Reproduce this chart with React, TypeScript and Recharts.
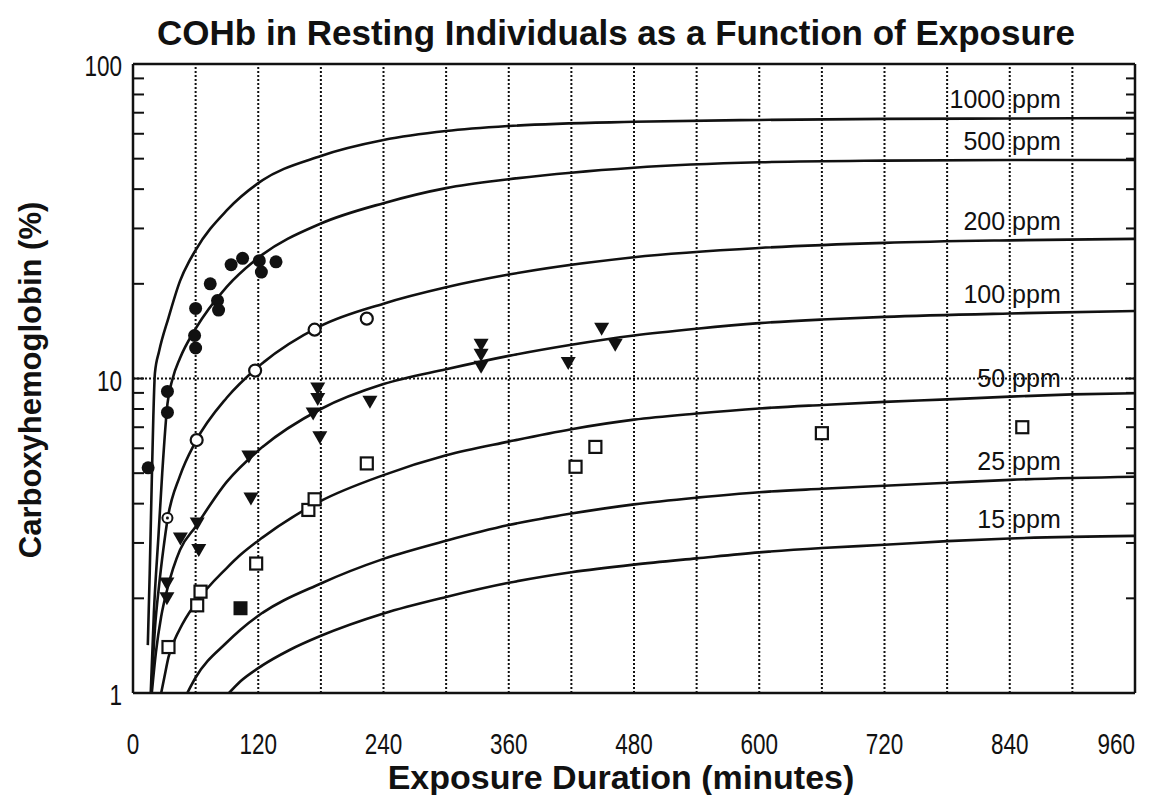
import React from 'react';
import { ComposedChart, Line, Scatter, XAxis, YAxis, ReferenceLine } from 'recharts';

// ---------- axis ticks ----------
const xTickLabels = [0, 120, 240, 360, 480, 600, 720, 840, 960];
const xMajorTicks = [0, 60, 120, 180, 240, 300, 360, 420, 480, 540, 600, 660, 720, 780, 840, 900, 960];
const xMinorTicks = [0, 30, 60, 90, 120, 150, 180, 210, 240, 270, 300, 330, 360, 390, 420, 450, 480, 510, 540, 570, 600, 630, 660, 690, 720, 750, 780, 810, 840, 870, 900, 930, 960];
const gridX = [60, 120, 180, 240, 300, 360, 420, 480, 540, 600, 660, 720, 780, 840, 900];
const gridY = [10];
const yTickLabels = [1, 10, 100];
const yMinorTicks = [1, 2, 3, 4, 5, 6, 7, 8, 9, 10, 20, 30, 40, 50, 60, 70, 80, 90, 100];

// ---------- model curves (minutes, COHb %) ----------
const curve1000 = [[14.2, 1.42], [16, 2.4], [17.5, 4.0], [19.5, 7.6], [21, 10.4], [25, 12.2], [34, 15.6], [45, 20.4], [60, 25.6], [90, 34.3], [120, 41.8], [180, 51.0], [240, 57.3], [300, 61.2], [360, 63.5], [480, 65.5], [600, 66.4], [720, 66.9], [840, 67.1], [960, 67.3]];
const curve500 = [[17, 1.0], [20, 1.8], [24.5, 3.2], [28, 5.0], [33, 8.3], [38, 10.0], [45, 11.6], [60, 14.4], [90, 19.6], [120, 24.2], [180, 31.1], [240, 36.1], [300, 40.3], [360, 43.0], [480, 46.8], [600, 48.7], [720, 49.3], [840, 49.5], [960, 49.5]];
const curve200 = [[17.5, 1.0], [21, 1.6], [25, 2.2], [29, 2.85], [33, 3.55], [45, 4.9], [60, 6.3], [90, 8.7], [120, 10.9], [180, 14.7], [240, 17.3], [300, 19.5], [360, 21.4], [480, 24.3], [600, 26.0], [720, 27.0], [840, 27.5], [960, 27.8]];
const curve100 = [[18, 1.0], [22, 1.35], [27, 1.75], [33, 2.15], [45, 2.85], [60, 3.38], [90, 4.7], [120, 5.9], [180, 8.0], [240, 9.6], [300, 10.7], [360, 11.8], [420, 12.8], [480, 13.7], [540, 14.4], [600, 15.0], [660, 15.4], [720, 15.7], [840, 16.1], [960, 16.4]];
const curve50 = [[27, 1.0], [30, 1.12], [34, 1.3], [45, 1.6], [60, 1.93], [90, 2.5], [103, 2.75], [120, 3.05], [180, 4.08], [240, 4.93], [300, 5.7], [360, 6.3], [420, 6.9], [480, 7.4], [540, 7.74], [600, 8.03], [660, 8.24], [720, 8.43], [780, 8.58], [840, 8.76], [900, 8.9], [960, 8.98]];
const curve25 = [[52, 1.0], [60, 1.12], [90, 1.45], [103, 1.59], [120, 1.76], [180, 2.23], [240, 2.67], [300, 3.05], [360, 3.42], [420, 3.72], [480, 3.98], [540, 4.18], [600, 4.35], [660, 4.46], [720, 4.56], [780, 4.66], [840, 4.76], [960, 4.87]];
const curve15 = [[92, 1.0], [103, 1.09], [120, 1.2], [150, 1.37], [180, 1.52], [240, 1.79], [300, 2.02], [360, 2.24], [420, 2.42], [480, 2.56], [540, 2.68], [600, 2.8], [660, 2.89], [720, 2.96], [780, 3.04], [840, 3.1], [960, 3.16]];

const curveNames = ['1000 ppm', '500 ppm', '200 ppm', '100 ppm', '50 ppm', '25 ppm', '15 ppm'];
const labelAt = 840;

// ---------- observed data ----------
const filledCircles = [[14.5, 5.2], [33, 9.1], [33, 7.8], [60, 16.7], [59, 13.7], [60, 12.5], [74, 20.0], [81, 17.7], [82, 16.5], [94, 23.0], [105, 24.1], [121, 23.7], [123, 21.8], [137, 23.5]];
const openCircles = [[61, 6.37], [117, 10.6], [174, 14.3], [224, 15.5]];
const dotCircles = [[33, 3.6]];
const triangles = [[32.5, 2.23], [32.5, 2.0], [45.4, 3.1], [61.5, 3.46], [63, 2.85], [111, 5.65], [113, 4.15], [172.6, 7.74], [177, 9.3], [177, 8.6], [179, 6.5], [227, 8.43], [333.5, 12.8], [333.5, 11.9], [333.5, 10.9], [417, 11.2], [449, 14.4], [462, 12.8]];
const openSquares = [[34, 1.4], [61.5, 1.9], [64.7, 2.1], [118, 2.58], [168, 3.82], [174, 4.13], [224, 5.37], [424, 5.24], [443, 6.06], [660, 6.7], [852, 7.0]];
const filledSquares = [[103, 1.86]];

const toPts = (a: number[][]) => a.map(([t, v]) => ({ t, v }));
const curves = [curve1000, curve500, curve200, curve100, curve50, curve25, curve15].map(toPts);

const INK = '#111';
const FONT = "'Liberation Sans', Arial, Helvetica, sans-serif";
const xMax = xTickLabels[xTickLabels.length - 1];

const makeLabel = (text: string, data: { t: number; v: number }[]) => {
  const idx = data.findIndex((d) => d.t === labelAt);
  return (props: any) => {
    if (props.index !== idx) return null;
    const x = props.x ?? props.viewBox?.x;
    const y = props.y ?? props.viewBox?.y;
    return (
      <text x={x + 51} y={y - 10} textAnchor="end" fontFamily={FONT} fontSize={25} fill={INK}>
        {text}
      </text>
    );
  };
};

// condensed tick labels (reference uses a narrow face)
const XTick = (p: any) => (
  <text transform={`translate(${p.x},${p.y}) scale(0.75,1)`} x={0} y={20} textAnchor={p.payload.value === xMax ? 'end' : 'middle'} fontFamily={FONT} fontSize={30} fill={INK}>
    {p.payload.value}
  </text>
);
const YTick = (p: any) => (
  <text transform={`translate(${p.x},${p.y}) scale(0.75,1)`} x={0} y={12} textAnchor="end" fontFamily={FONT} fontSize={30} fill={INK}>
    {p.payload.value}
  </text>
);

const FilledCircle = (p: any) => <circle cx={p.cx} cy={p.cy} r={6.5} fill={INK} />;
const OpenCircle = (p: any) => <circle cx={p.cx} cy={p.cy} r={6} fill="#fff" stroke={INK} strokeWidth={2.2} />;
const DotCircle = (p: any) => (
  <g>
    <circle cx={p.cx} cy={p.cy} r={5} fill="#fff" stroke={INK} strokeWidth={2} />
    <circle cx={p.cx} cy={p.cy} r={1.5} fill={INK} />
  </g>
);
const Triangle = (p: any) => (
  <path d={`M${p.cx - 7.5},${p.cy - 6} L${p.cx + 7.5},${p.cy - 6} L${p.cx},${p.cy + 7} Z`} fill={INK} />
);
const OpenSquare = (p: any) => <rect x={p.cx - 6} y={p.cy - 6} width={12} height={12} fill="#fff" stroke={INK} strokeWidth={2.2} />;
const FilledSquare = (p: any) => <rect x={p.cx - 7} y={p.cy - 7} width={14} height={14} fill={INK} />;

const W = 1143;
const H = 787;

export default function App() {
  return (
    <div style={{ position: 'fixed', left: 8, top: 8, width: W, height: H, background: '#fff' }}>
      <ComposedChart width={W} height={H} margin={{ top: 56, right: 16, bottom: 22, left: 0 }}>
        {/* main axes */}
        <XAxis
          xAxisId="x"
          dataKey="t"
          type="number"
          domain={[0, 960]}
          allowDataOverflow
          ticks={xTickLabels}
          interval={0}
          height={80}
          tickLine={false}
          tickSize={0}
          tickMargin={41}
          axisLine={{ stroke: INK, strokeWidth: 2.5 }}
          tick={XTick}
        />
        <YAxis
          yAxisId="y"
          dataKey="v"
          type="number"
          scale="log"
          domain={[1, 100]}
          allowDataOverflow
          ticks={yTickLabels}
          interval={0}
          width={125}
          tickLine={false}
          tickSize={0}
          tickMargin={11}
          axisLine={{ stroke: INK, strokeWidth: 2.5 }}
          tick={YTick}
        />
        {/* inward tick marks: bottom */}
        <XAxis xAxisId="bMaj" type="number" domain={[0, 960]} allowDataOverflow orientation="bottom" mirror height={20}
          ticks={xMajorTicks} interval={0} tickSize={14} axisLine={false} tickFormatter={() => ''}
          tickLine={{ stroke: INK, strokeWidth: 2 }} />
        <XAxis xAxisId="bMin" type="number" domain={[0, 960]} allowDataOverflow orientation="bottom" mirror height={20}
          ticks={xMinorTicks} interval={0} tickSize={8} axisLine={false} tickFormatter={() => ''}
          tickLine={{ stroke: INK, strokeWidth: 2 }} />
        {/* top */}
        <XAxis xAxisId="tMaj" type="number" domain={[0, 960]} allowDataOverflow orientation="top" mirror height={20}
          ticks={xMajorTicks} interval={0} tickSize={13} axisLine={{ stroke: INK, strokeWidth: 2.5 }} tickFormatter={() => ''}
          tickLine={{ stroke: INK, strokeWidth: 2 }} />
        <XAxis xAxisId="tMin" type="number" domain={[0, 960]} allowDataOverflow orientation="top" mirror height={20}
          ticks={xMinorTicks} interval={0} tickSize={9} axisLine={false} tickFormatter={() => ''}
          tickLine={{ stroke: INK, strokeWidth: 2 }} />
        {/* left minor */}
        <YAxis yAxisId="lMin" type="number" scale="log" domain={[1, 100]} allowDataOverflow orientation="left" mirror width={20}
          ticks={yMinorTicks} interval={0} tickSize={11} axisLine={false} tickFormatter={() => ''}
          tickLine={{ stroke: INK, strokeWidth: 2 }} />
        {/* right */}
        <YAxis yAxisId="rMin" type="number" scale="log" domain={[1, 100]} allowDataOverflow orientation="right" mirror width={20}
          ticks={yMinorTicks} interval={0} tickSize={9} axisLine={{ stroke: INK, strokeWidth: 2.5 }} tickFormatter={() => ''}
          tickLine={{ stroke: INK, strokeWidth: 2 }} />

        {/* dotted grid */}
        {gridX.map((g) => (
          <ReferenceLine key={`gx${g}`} xAxisId="x" yAxisId="y" x={g} stroke={INK} strokeWidth={2} strokeDasharray="2 2" />
        ))}
        {gridY.map((g) => (
          <ReferenceLine key={`gy${g}`} xAxisId="x" yAxisId="y" y={g} stroke={INK} strokeWidth={2} strokeDasharray="2 2" />
        ))}

        {/* model curves */}
        {curves.map((data, i) => (
          <Line
            key={curveNames[i]}
            xAxisId="x"
            yAxisId="y"
            data={data}
            dataKey="v"
            type="monotone"
            stroke={INK}
            strokeWidth={2.6}
            dot={false}
            activeDot={false}
            isAnimationActive={false}
            label={makeLabel(curveNames[i], data)}
          />
        ))}

        {/* observations */}
        <Scatter xAxisId="x" yAxisId="y" data={toPts(filledCircles)} dataKey="v" shape={FilledCircle} isAnimationActive={false} />
        <Scatter xAxisId="x" yAxisId="y" data={toPts(openCircles)} dataKey="v" shape={OpenCircle} isAnimationActive={false} />
        <Scatter xAxisId="x" yAxisId="y" data={toPts(dotCircles)} dataKey="v" shape={DotCircle} isAnimationActive={false} />
        <Scatter xAxisId="x" yAxisId="y" data={toPts(triangles)} dataKey="v" shape={Triangle} isAnimationActive={false} />
        <Scatter xAxisId="x" yAxisId="y" data={toPts(openSquares)} dataKey="v" shape={OpenSquare} isAnimationActive={false} />
        <Scatter xAxisId="x" yAxisId="y" data={toPts(filledSquares)} dataKey="v" shape={FilledSquare} isAnimationActive={false} />
      </ComposedChart>

      <svg width={W} height={H} style={{ position: 'absolute', left: 0, top: 0, pointerEvents: 'none' }}>
        <text x={608} y={37} textAnchor="middle" fontFamily={FONT} fontWeight="bold" fontSize={35} fill={INK}>
          COHb in Resting Individuals as a Function of Exposure
        </text>
        <text x={613} y={781} textAnchor="middle" fontFamily={FONT} fontWeight="bold" fontSize={34} fill={INK}>
          Exposure Duration (minutes)
        </text>
        <text x={33} y={372} textAnchor="middle" transform="rotate(-90 33 372)" fontFamily={FONT} fontWeight="bold" fontSize={31} fill={INK}>
          Carboxyhemoglobin (%)
        </text>
      </svg>
    </div>
  );
}
